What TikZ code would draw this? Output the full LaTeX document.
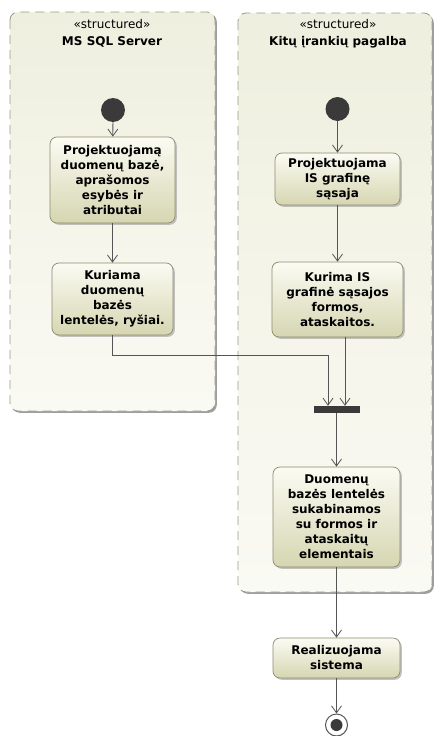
\documentclass[tikz,border=0pt]{standalone}
\usepackage{fontspec}
\setmainfont{DejaVu Sans}
\usetikzlibrary{arrows.meta,shadows}

\definecolor{lineclr}{HTML}{555555}
\definecolor{boxedge}{HTML}{8C8C6E}
\definecolor{boxtop}{HTML}{FBFBF3}
\definecolor{boxbot}{HTML}{D6D6B2}
\definecolor{regtop}{HTML}{EFEFDF}
\definecolor{regbot}{HTML}{FAFAF4}
\definecolor{regedge}{HTML}{9A9A8A}
\definecolor{darkfill}{HTML}{3A3A3A}

\begin{document}
\begin{tikzpicture}[x=1pt,y=-1pt,
  region/.style={draw=regedge, dash pattern=on 9pt off 6pt, line width=0.8pt, rounded corners=8pt,
    top color=regtop, bottom color=regbot,
    drop shadow={shadow xshift=1.8pt, shadow yshift=-1.8pt, fill=gray!75, opacity=1}},
  stereo/.style={font=\fontsize{12}{14}\selectfont, inner sep=0pt},
  regtitle/.style={font=\bfseries\fontsize{12}{14}\selectfont, inner sep=0pt},
  action/.style={draw=boxedge, line width=0.7pt, rounded corners=7pt,
    top color=boxtop, bottom color=boxbot, align=center, inner sep=0pt,
    font=\bfseries\fontsize{12}{15}\selectfont,
    drop shadow={shadow xshift=1.8pt, shadow yshift=-1.8pt, fill=gray!60, opacity=0.8}},
  initial/.style={circle, fill=darkfill, minimum size=24pt, inner sep=0pt},
  final/.style={circle, draw=lineclr, line width=1pt, fill=white, minimum size=22pt, inner sep=0pt,
    path picture={\fill[darkfill] (path picture bounding box.center) circle (6pt);}},
  joinbar/.style={rectangle, fill=darkfill, minimum width=46pt, minimum height=7pt, inner sep=0pt},
  flow/.style={draw=lineclr, line width=0.8pt, -{Straight Barb[length=7pt,width=10pt]}}
]
\useasboundingbox (0,0) rectangle (436,736);

% partitions
\path[region] (10,12) rectangle (215,411);
\path[region] (238,13) rectangle (432,592);

\node[stereo]   (ls) at (112,24) {«structured»};
\node[regtitle] (lt) at (112,42) {MS SQL Server};
\node[stereo]   (rs) at (338,24) {«structured»};
\node[regtitle] (rt) at (338,42) {Kitų įrankių pagalba};

% left partition
\node[initial] (li) at (113,110) {};
\node[action, minimum width=125pt, minimum height=86pt] (l1) at (112.5,180)
  {Projektuojamą\\duomenų bazė,\\aprašomos\\esybės ir\\atributai};
\node[action, minimum width=121pt, minimum height=72pt] (l2) at (112.5,299)
  {Kuriama\\duomenų\\bazės\\lentelės, ryšiai.};

% right partition
\node[initial] (ri) at (337.5,109) {};
\node[action, minimum width=125pt, minimum height=52pt] (r1) at (337.5,179)
  {Projektuojama\\IS grafinę\\sąsaja};
\node[action, minimum width=131pt, minimum height=75pt] (r2) at (337.5,299.5)
  {Kurima IS\\grafinė sąsajos\\formos,\\ataskaitos.};
\node[joinbar] (bar) at (336.5,409.5) {};
\node[action, minimum width=127pt, minimum height=100pt] (r3) at (336.5,517)
  {Duomenų\\bazės lentelės\\sukabinamos\\su formos ir\\ataskaitų\\elementais};

% outside
\node[action, minimum width=127pt, minimum height=40pt] (r4) at (336.5,658)
  {Realizuojama\\sistema};
\node[final] (fin) at (336.5,725) {};

% flows
\coordinate (jl) at (328,355);
\coordinate (jr) at (345,337);
\draw[flow] (li) -- (l1);
\draw[flow] (l1) -- (l2);
\draw[flow] (l2.south) |- (jl) -- (jl |- bar.north);
\draw[flow] (ri) -- (r1);
\draw[flow] (r1) -- (r2);
\draw[flow] (r2.south -| jr) -- (jr |- bar.north);
\draw[flow] (bar) -- (r3);
\draw[flow] (r3) -- (r4);
\draw[flow] (r4) -- (fin);
\end{tikzpicture}
\end{document}
